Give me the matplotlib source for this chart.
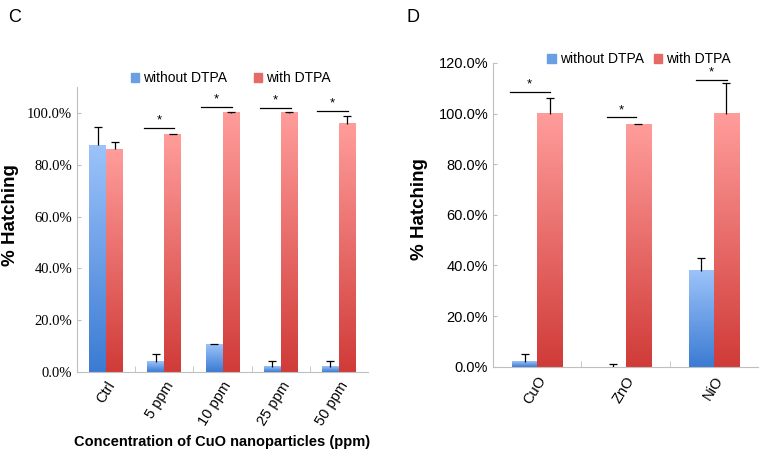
import numpy as np
import matplotlib
matplotlib.use("Agg")
import matplotlib.pyplot as plt
from matplotlib.colors import LinearSegmentedColormap
from matplotlib.patches import Patch

plt.rcParams['font.family'] = ['Liberation Sans', 'DejaVu Sans']

# panel C data
cats_c = ["Ctrl", "5 ppm", "10 ppm", "25 ppm", "50 ppm"]
without_c = [87.5, 4.0, 10.7, 2.0, 2.0]
without_err_c = [7.0, 3.0, 0.2, 2.2, 2.2]
with_c = [86.0, 91.7, 100.0, 100.0, 95.8]
with_err_c = [2.6, 0.2, 0.2, 0.2, 3.0]
sig_cat_c = [1, 2, 3, 4]
sig_y_c = [94.3, 102.3, 101.9, 100.8]

# panel D data
cats_d = ["CuO", "ZnO", "NiO"]
without_d = [2.0, 0.0, 38.0]
without_err_d = [3.0, 1.2, 5.0]
with_d = [100.0, 95.7, 100.0]
with_err_d = [6.0, 0.2, 12.0]
sig_cat_d = [0, 1, 2]
sig_y_d = [108.6, 98.5, 113.4]

blue_cmap = LinearSegmentedColormap.from_list("b", ["#3b7bd3", "#9cc3fa"])
red_cmap = LinearSegmentedColormap.from_list("r", ["#d03b38", "#ff9d9b"])
grad = np.linspace(0, 1, 256).reshape(-1, 1)
GRAY = "#bfbfbf"


def gradient_bars(ax, x, vals, errs, width, cmap):
    bars = ax.bar(x, vals, width, color="none", edgecolor="none")
    for b in bars:
        x0, y0 = b.get_x(), b.get_y()
        h = b.get_height()
        if h <= 0:
            continue
        ax.imshow(grad, extent=[x0, x0 + b.get_width(), y0, y0 + h],
                  cmap=cmap, aspect="auto", origin="lower", zorder=2)
    # upper error bars only, cap on top
    tops = np.array(vals) + np.array(errs)
    ax.vlines(x, vals, tops, color="black", lw=0.9, zorder=3)
    ax.plot(x, tops, ls="none", marker="_", ms=6, mew=0.9, color="black", zorder=3)


def style_axes(ax, n, ymax, cats):
    ax.set_xlim(-0.5, n - 0.5)
    ax.set_ylim(0, ymax)
    for s in ["top", "right"]:
        ax.spines[s].set_visible(False)
    for s in ["left", "bottom"]:
        ax.spines[s].set_color(GRAY)
    ax.set_xticks(range(n))
    ax.set_xticklabels(cats, rotation=58, ha="right", va="top",
                       rotation_mode="anchor", fontsize=10.5)
    ax.tick_params(axis="x", length=0, pad=5)
    ax.set_xticks(np.arange(0.5, n - 0.5, 1), minor=True)
    ax.tick_params(axis="x", which="minor", direction="in", length=4, color=GRAY)
    ax.tick_params(axis="y", direction="in", length=3, color=GRAY)
    ax.set_ylabel("% Hatching", fontsize=13.5, fontweight="bold")


def sig_marks(ax, cats, ys, left, right):
    for c, y, l, r in zip(cats, ys, left, right):
        ax.plot([c + l, c + r], [y, y], color="black", lw=0.9)
        ax.annotate("*", ((c + l + c + r) / 2, y), xytext=(0, 1),
                    textcoords="offset points", ha="center", va="bottom", fontsize=9.5)


fig = plt.figure(figsize=(7.64, 4.59), dpi=100)

# ---- panel C
axc = fig.add_axes([77 / 764, 87 / 459, 291 / 764, 285 / 459])
xc = np.arange(len(cats_c))
wc = 0.29
gradient_bars(axc, xc - wc / 2, without_c, without_err_c, wc, blue_cmap)
gradient_bars(axc, xc + wc / 2, with_c, with_err_c, wc, red_cmap)
style_axes(axc, len(cats_c), 110, cats_c)
axc.set_yticks(np.arange(0, 101, 20))
axc.set_yticklabels([f"{v:.1f}%" for v in range(0, 101, 20)],
                    family="Liberation Serif", fontsize=10.5)
axc.yaxis.set_label_coords(-0.2, 0.55)
axc.set_xlabel("Concentration of CuO nanoparticles (ppm)", fontsize=10.5,
               fontweight="bold", labelpad=5)
sig_marks(axc, sig_cat_c, sig_y_c, [-0.35, -0.37, -0.36, -0.38], [0.17, 0.16, 0.18, 0.16])
axc.legend([Patch(color="#6a9fe6"), Patch(color="#e86a66")],
           ["without DTPA", "with DTPA"], ncol=2, frameon=False, fontsize=10,
           loc="center left", bbox_to_anchor=(0.185, 1.03), borderpad=0,
           borderaxespad=0, handlelength=0.6, handleheight=0.6,
           handletextpad=0.3, columnspacing=1.9)
fig.text(8 / 764, 1 - 22 / 459, "C", fontsize=13)

# ---- panel D
axd = fig.add_axes([493 / 764, (459 - 366.7) / 459, 265 / 764, 303.7 / 459])
xd = np.arange(len(cats_d))
wd = 0.285
gradient_bars(axd, xd - wd / 2, without_d, without_err_d, wd, blue_cmap)
gradient_bars(axd, xd + wd / 2, with_d, with_err_d, wd, red_cmap)
style_axes(axd, len(cats_d), 120, cats_d)
axd.set_yticks(np.arange(0, 121, 20))
axd.set_yticklabels([f"{v:.1f}%" for v in range(0, 121, 20)], fontsize=10.5)
axd.yaxis.set_label_coords(-0.245, 0.52)
sig_marks(axd, sig_cat_d, sig_y_d, [-0.31, -0.21, -0.2], [0.14, 0.12, 0.15])
axd.legend([Patch(color="#6a9fe6"), Patch(color="#e86a66")],
           ["without DTPA", "with DTPA"], ncol=2, frameon=False, fontsize=10,
           loc="center left", bbox_to_anchor=(0.205, 1.013), borderpad=0,
           borderaxespad=0, handlelength=0.6, handleheight=0.6,
           handletextpad=0.3, columnspacing=0.7)
fig.text(407 / 764, 1 - 22 / 459, "D", fontsize=13)

fig.savefig("out.png", dpi=100)
